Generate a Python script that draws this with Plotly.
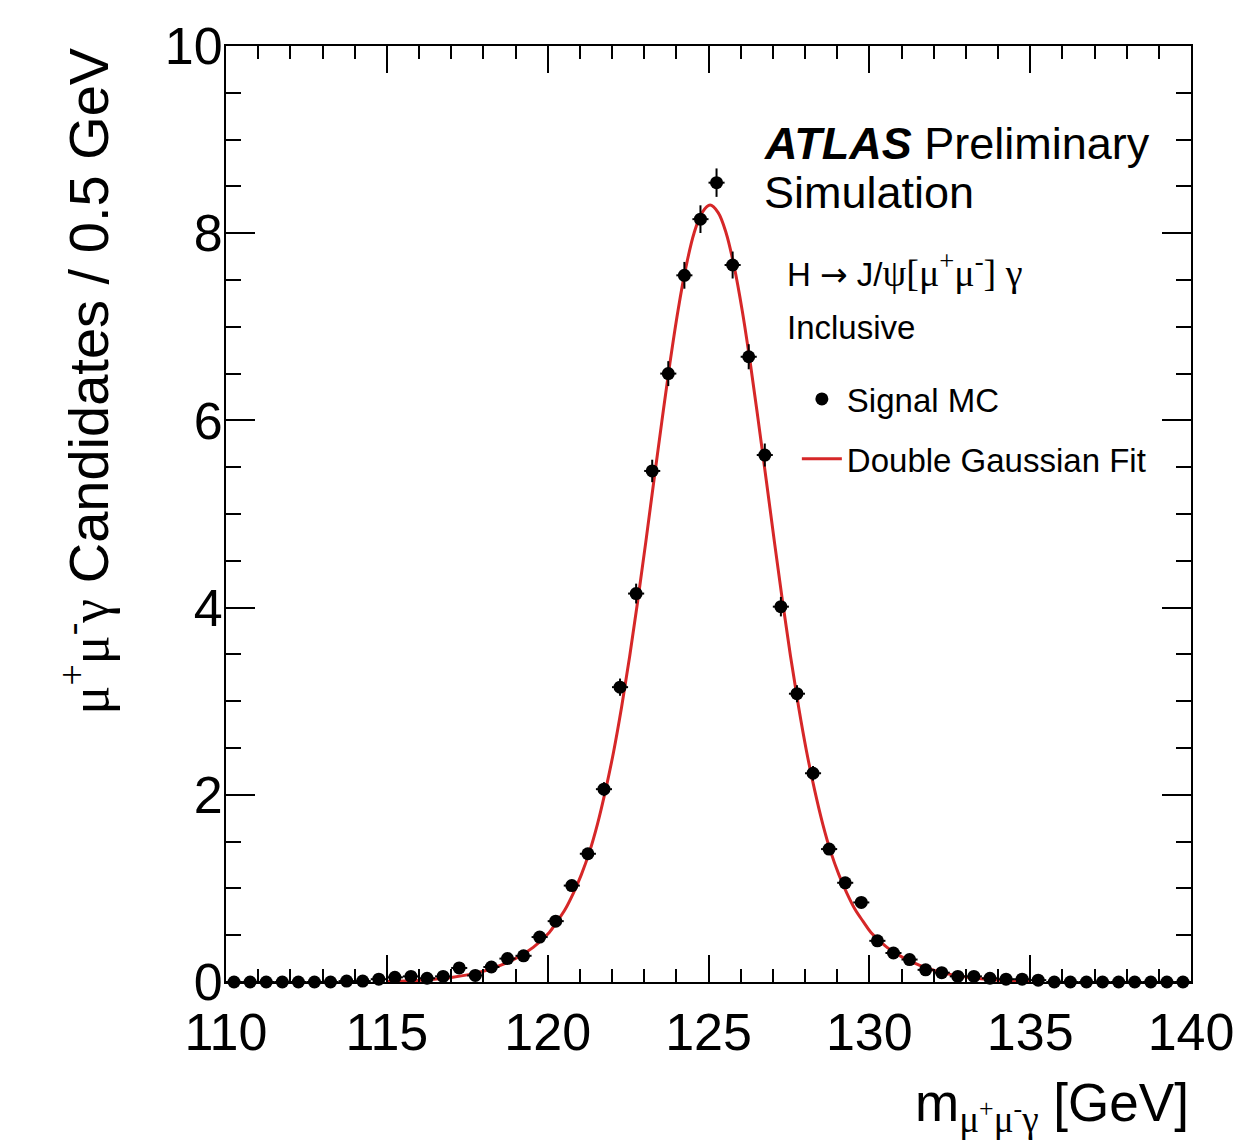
import plotly.graph_objects as go

# ---- data ----
bin_centers = [110.25, 110.75, 111.25, 111.75, 112.25, 112.75, 113.25, 113.75, 114.25, 114.75,
               115.25, 115.75, 116.25, 116.75, 117.25, 117.75, 118.25, 118.75, 119.25, 119.75,
               120.25, 120.75, 121.25, 121.75, 122.25, 122.75, 123.25, 123.75, 124.25, 124.75,
               125.25, 125.75, 126.25, 126.75, 127.25, 127.75, 128.25, 128.75, 129.25, 129.75,
               130.25, 130.75, 131.25, 131.75, 132.25, 132.75, 133.25, 133.75, 134.25, 134.75,
               135.25, 135.75, 136.25, 136.75, 137.25, 137.75, 138.25, 138.75, 139.25, 139.75]
signal_mc = [0, 0, 0, 0, 0, 0, 0, 0.01, 0.01, 0.03,
             0.05, 0.06, 0.04, 0.06, 0.15, 0.07, 0.16, 0.25, 0.28, 0.48,
             0.65, 1.03, 1.37, 2.06, 3.15, 4.15, 5.46, 6.50, 7.55, 8.15,
             8.54, 7.66, 6.68, 5.63, 4.01, 3.08, 2.23, 1.42, 1.06, 0.85,
             0.44, 0.31, 0.24, 0.13, 0.10, 0.06, 0.06, 0.04, 0.03, 0.03,
             0.02, 0, 0, 0, 0, 0, 0, 0, 0, 0]
signal_err = [0, 0, 0, 0, 0, 0, 0, 0.005, 0.005, 0.01,
              0.012, 0.013, 0.01, 0.013, 0.02, 0.014, 0.02, 0.026, 0.028, 0.036,
              0.042, 0.053, 0.061, 0.075, 0.092, 0.106, 0.12, 0.133, 0.143, 0.148,
              0.152, 0.144, 0.134, 0.123, 0.104, 0.091, 0.078, 0.062, 0.054, 0.048,
              0.034, 0.029, 0.025, 0.019, 0.016, 0.013, 0.013, 0.01, 0.01, 0.01,
              0.007, 0, 0, 0, 0, 0, 0, 0, 0, 0]
bin_half_width = [0.25] * 60

fit_x = [115.0, 115.55, 116.05, 116.55, 117.05, 117.55, 118.05, 118.55, 119.05, 119.55,
         120.05, 120.3, 120.55, 120.8, 121.05, 121.3, 121.55, 121.8, 122.05, 122.3,
         122.55, 122.8, 123.05, 123.3, 123.55, 123.8, 124.05, 124.3, 124.55, 124.8,
         125.05,
         125.3, 125.55, 125.8, 126.05, 126.3, 126.55, 126.8, 127.05, 127.3, 127.55,
         127.8, 128.05, 128.3, 128.55, 128.8, 129.05, 129.3, 129.55, 129.8, 130.05,
         130.55, 131.05, 131.55, 132.05, 132.55, 133.05, 133.55, 134.05, 134.55, 135.0]
fit_y = [0.006, 0.012, 0.020, 0.033, 0.051, 0.079, 0.12, 0.18, 0.26, 0.37,
         0.53, 0.65, 0.78, 0.95, 1.15, 1.39, 1.69, 2.05, 2.46, 2.94,
         3.48, 4.07, 4.70, 5.35, 5.99, 6.61, 7.17, 7.64, 8.00, 8.22,
         8.30,
         8.22, 8.00, 7.64, 7.17, 6.61, 5.99, 5.35, 4.70, 4.07, 3.48,
         2.94, 2.46, 2.05, 1.69, 1.39, 1.15, 0.95, 0.78, 0.65, 0.53,
         0.37, 0.26, 0.18, 0.12, 0.079, 0.051, 0.033, 0.020, 0.012, 0.007]

FONT = "Liberation Sans, Arial, Helvetica, sans-serif"

fig = go.Figure()
fig.add_trace(go.Scatter(
    x=fit_x, y=fit_y, mode="lines", name="Double Gaussian Fit",
    line=dict(color="#d62728", width=3, shape="spline"),
    legendrank=2, legendgroup="b", cliponaxis=True))
fig.add_trace(go.Scatter(
    x=bin_centers, y=signal_mc, mode="markers", name="Signal MC",
    marker=dict(color="black", size=13),
    error_y=dict(type="data", array=signal_err, color="black", thickness=2, width=0),
    error_x=dict(type="data", array=bin_half_width, color="black", thickness=2, width=0),
    legendrank=1, legendgroup="a", cliponaxis=False))

W, H = 1246, 1142
L, R, T, B = 226, 48, 46, 160
pw, ph = W - L - R, H - T - B

def px(xp):
    return (xp - L) / pw

def py(yp):
    return (H - B - yp) / ph

axis_common = dict(
    showline=True, linecolor="black", linewidth=2, mirror="allticks",
    ticks="inside", tickcolor="black", tickwidth=2,
    showgrid=False, zeroline=False,
    tickfont=dict(family=FONT, size=52, color="black"),
)
fig.update_xaxes(range=[110, 140], tick0=110, dtick=5, ticklen=27,
                 minor=dict(dtick=1, ticklen=13, tickwidth=2, tickcolor="black", ticks="inside"),
                 ticklabelstandoff=4, **axis_common)
fig.update_yaxes(range=[0, 10], tick0=0, dtick=2, ticklen=29,
                 minor=dict(dtick=0.5, ticklen=15, tickwidth=2, tickcolor="black", ticks="inside"),
                 ticklabelstandoff=-9, **axis_common)

SER = "font-family:Liberation Serif"
ann = []
ann.append(dict(text="<b><i>ATLAS</i></b> Preliminary", x=px(766), y=py(144), xref="paper", yref="paper",
                xanchor="left", yanchor="middle", showarrow=False, font=dict(family=FONT, size=45, color="black")))
ann.append(dict(text="Simulation", x=px(766), y=py(192), xref="paper", yref="paper",
                xanchor="left", yanchor="middle", showarrow=False, font=dict(family=FONT, size=45, color="black")))
ann.append(dict(text=("H <span style=\"font-family:DejaVu Sans\">\u2192</span> J/"
                      "<span style=\"" + SER + ";font-size:38px\">\u03c8[\u03bc<sup>+</sup>\u03bc<sup>-</sup>] \u03b3</span>"),
                x=px(789), y=py(270), xref="paper", yref="paper",
                xanchor="left", yanchor="middle", showarrow=False, font=dict(family=FONT, size=33, color="black")))
ann.append(dict(text="Inclusive", x=px(789), y=py(327), xref="paper", yref="paper",
                xanchor="left", yanchor="middle", showarrow=False, font=dict(family=FONT, size=33, color="black")))
ann.append(dict(text=("<span style=\"" + SER + ";font-size:54px\">\u03bc<sup>+</sup>\u03bc<sup>-</sup>\u03b3</span>"
                      " Candidates / 0.5 GeV"),
                x=px(85), y=1.0, xref="paper", yref="paper", textangle=-90,
                xanchor="center", yanchor="top", showarrow=False, font=dict(family=FONT, size=56, color="black")))
ann.append(dict(text="m<sub><span style=\"" + SER + "\">\u03bc<sup>+</sup>\u03bc<sup>-</sup>\u03b3</span></sub> [GeV]",
                x=1.0, y=py(1142), xref="paper", yref="paper",
                xanchor="right", yanchor="bottom", showarrow=False, font=dict(family=FONT, size=53, color="black")))

fig.update_layout(
    width=W, height=H,
    margin=dict(l=L, r=R, t=T, b=B),
    paper_bgcolor="white", plot_bgcolor="white",
    annotations=ann,
    showlegend=True,
    legend=dict(x=px(801), y=py(371), xanchor="left", yanchor="top",
                font=dict(family=FONT, size=33, color="black"),
                bgcolor="rgba(0,0,0,0)", borderwidth=0, tracegroupgap=14,
                itemwidth=40),
    font=dict(family=FONT, color="black"),
)

fig.write_html("out.html")
